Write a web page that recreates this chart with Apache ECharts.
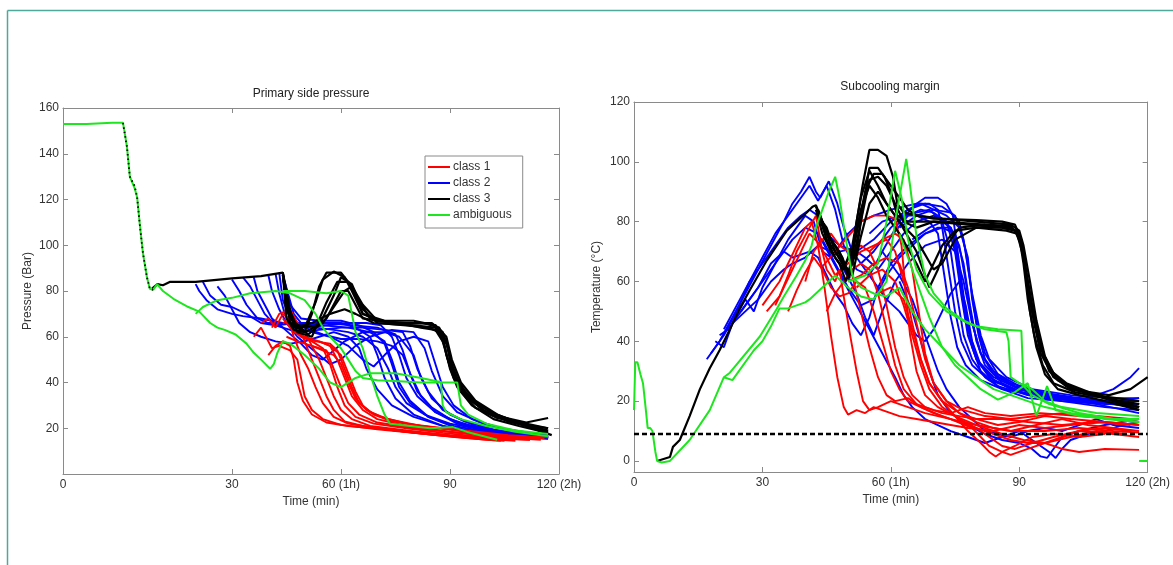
<!DOCTYPE html>
<html>
<head>
<meta charset="utf-8">
<script src="https://cdn.jsdelivr.net/npm/echarts@6/dist/echarts.min.js"></script>
<style>
html,body{margin:0;padding:0;background:#fff;}
#chart{width:1173px;height:565px;}
</style>
</head>
<body>
<div id="chart"></div>
<script>
// ---------- axis ticks ----------
const pressureTimeTicks = [-16.5, 30, 60, 90, 120];
const pressureTimeLabels = ['0', '30', '60 (1h)', '90', '120 (2h)'];
const marginTimeTicks = [0, 30, 60, 90, 120];
const marginTimeLabels = ['0', '30', '60 (1h)', '90', '120 (2h)'];
const pressureTicks = [0, 20, 40, 60, 80, 100, 120, 140, 160];
const marginTicks = [0, 20, 40, 60, 80, 100, 120];
const legendNames = ['class 1', 'class 2', 'class 3', 'ambiguous'];
const marginThreshold = 9;

// ---------- primary side pressure (Bar) vs time (min) ----------
const pressureDrop = [[0,153.5],[1.1,143],[1.9,130],[3.2,126],[3.9,121],[4.7,108],[5.5,96.6],[6.6,86],[7.4,81],[8.3,80.5]];

const pressureClass1 = [
  [[36,60],[38,64],[40,58],[41,55],[43,56],[46,54],[48,50],[49,42],[50,34],[52,28],[55,24],[60,21.5],[70,19.5],[80,18],[90,16.5],[100,15],[105,14.5]],
  [[38,66],[40,68],[42,64],[44,70],[45.5,68],[47,60],[49,52],[51,46],[53,38],[55,31],[58,25],[62,22],[70,20],[80,18],[92,16],[104,14.5]],
  [[41,64],[43,70],[46,72],[48,66],[50,58],[52,50],[54,42],[56,34],[58,28],[61,23],[66,21],[75,19],[86,17],[98,15.5],[108,14.5]],
  [[44,66],[47,68],[50,62],[52,56],[54,50],[56,42],[58,34],[60,28],[63,24],[68,21],[78,19],[90,17],[102,15.5],[112,15]],
  [[44,68],[46,64],[49,60],[52,58],[55,55],[57,48],[59,38],[61,30],[64,25],[69,22],[78,20],[88,18],[100,16],[112,15]],
  [[45,60],[48,58],[52,56],[56,54],[58,46],[60,38],[62,31],[65,26],[70,22.5],[80,20],[92,18],[104,16],[115,15]],
  [[47,62],[50,60],[54,58],[57,56],[59,50],[61,42],[63,34],[66,28],[70,24],[78,21],[90,18.5],[102,16.5],[115,15.5]],
  [[50,60],[53,58],[57,57],[59,54],[61,46],[63,38],[65,31],[68,27],[73,24],[82,21],[94,18.5],[106,16.5],[116,15.5]],
  [[52,56],[55,54],[58,52],[60,48],[62,40],[64,33],[67,28],[71,25],[78,22],[88,20],[100,17.5],[112,16]],
  [[40,52],[42,56],[44,58],[46,56],[47,50],[48,40],[49.5,32],[52,26],[56,22.5],[62,21],[72,19.5],[84,17.5],[96,16],[106,15]],
  [[54,58],[57,56],[60,52],[62,44],[64,36],[66,30],[69,26],[74,23],[82,21],[94,19],[106,17],[117,16]]
];

const pressureClass2 = [
  [[20,83],[21,80],[23,76],[26,72],[30,70],[33,69],[38,68],[44,66],[52,66],[60,66],[64,64],[68,60],[70,52],[72,42],[75,33],[80,26],[88,21],[98,18],[108,16.5],[117,15.5]],
  [[22,84],[24,78],[27,74],[30,73],[34,70],[38,66],[42,65],[48,66],[55,65],[62,64],[68,62],[72,58],[74,50],[76,40],[79,32],[84,25],[92,20],[102,17.5],[112,16],[117,15.5]],
  [[30,85],[32,80],[34,74],[37,68],[40,66],[46,66],[56,66],[63,65],[70,64],[75,61],[77,54],[79,44],[82,34],[86,27],[92,22],[100,19],[110,17],[117,16]],
  [[33,86],[35,82],[37,76],[39,70],[42,65],[48,62],[54,63],[60,64],[66,64],[72,63],[77,62],[79,56],[81,46],[84,36],[88,28],[94,23],[102,19.5],[112,17],[117,16.5]],
  [[36,86],[37,80],[39,74],[41,68],[44,64],[49,57],[52,52],[55,50],[58,54],[61,58],[66,62],[72,62],[76,60],[80,52],[82,42],[85,33],[90,26],[97,21],[106,18],[117,16]],
  [[40,87],[41,80],[43,72],[45,66],[48,60],[51,56],[54,52],[57,48],[60,50],[64,56],[68,60],[74,63],[80,62],[83,55],[85,45],[88,34],[92,27],[99,22],[108,18.5],[117,17]],
  [[42,87.5],[43,79],[44.5,70],[47,64],[52,62],[57,60],[62,56],[66,50],[69,47],[72,52],[76,58],[80,60],[84,58],[86,48],[88,38],[91,30],[96,24],[104,20],[114,17.5],[117,17]],
  [[43,88],[44,76],[46,68],[50,64],[55,61],[60,59],[65,59],[70,58],[74,56],[77,52],[79,44],[81,36],[85,29],[90,24],[98,20],[108,17.5],[117,16]],
  [[44,87],[46,74],[49,68],[54,67],[60,67],[65,65],[69,62],[72,57],[74,48],[76,38],[79,31],[84,25],[91,21],[100,18.5],[110,16.5],[117,16]],
  [[44,88],[45,72],[48,66],[53,64],[58,63],[62,62],[66,60],[70,55],[73,46],[75,38],[78,31],[83,26],[90,22],[100,19],[110,17],[117,16.5]],
  [[44,87],[47,70],[50,64],[56,65],[62,66],[67,66],[71,65],[74,60],[76,52],[78,42],[81,34],[86,27],[93,22],[102,19],[112,17],[117,16]],
  [[26,82],[28,78],[30,72],[32,66],[35,62],[38,60],[42,58],[46,57],[50,58],[54,60],[58,62],[62,60],[65,55],[67,46],[70,37],[74,30],[80,25],[88,21],[98,18],[110,16],[117,15.5]]
];

const pressureClass3 = [
  [[8,81],[9.5,83],[11,82.5],[13,84],[20,84],[30,85.5],[38,86.5],[44,88],[44.5,78],[45,68],[47,63],[50,62],[52,70],[54,82],[56,88],[60,88],[62,84],[64,78],[66,70],[70,67],[78,66],[85,66],[88,62],[89.5,55],[90.5,45],[93,36],[97,29],[103,24.5],[110,22],[117,19]],
  [[44,88],[45,72],[47,66],[50,64],[53,75],[55,85],[58,88.5],[61,86],[63,80],[66,70],[72,67],[80,67],[86,65],[88,60],[89,52],[91,42],[95,33],[100,27],[107,23],[113,21],[117,20]],
  [[44,87],[46,70],[48,62],[52,60],[56,75],[59,84],[62,84],[65,76],[68,68],[75,66],[83,66],[87,64],[89,58],[90.5,48],[93,38],[98,30],[104,25],[111,22.5],[117,24.5]],
  [[44,88],[45,75],[48,64],[54,65],[58,78],[60,86],[63,83],[66,72],[70,66],[78,65],[84,64],[87,62],[88.5,56],[90,46],[92,38],[96,30],[102,24],[109,21],[117,18]],
  [[44,87],[46,66],[50,62],[55,66],[61,80],[63,82],[66,74],[70,67],[76,66],[82,64],[86,63],[88,58],[90,47],[94,35],[99,28],[106,23],[117,18.5]],
  [[44,88],[47,64],[52,66],[57,70],[61,72],[64,70],[69,66],[80,65],[86,64],[89,57],[91,44],[95,34],[101,27],[108,23],[117,20]],
  [[44,87],[46,68],[51,61],[56,68],[60,80],[62,80],[66,68],[74,66],[82,66],[86,65],[89,60],[90.5,50],[93,40],[97,32],[103,26],[111,21],[118,17]]
];

const pressureAmbiguous = [
  [[-16.5,153],[-10,153],[-3,153.5],[0,153.5],[0.5,149],[1.1,143],[1.9,130],[3.2,125],[3.9,121],[4.7,108],[5.5,96.6],[6.6,86],[7.4,81],[8.3,80.5],[9.4,83],[11,80],[14,76.5],[18,73],[21,71],[24,66],[26,64],[28,63],[31,61],[34,57],[36,53],[38,50],[40.5,46],[41.5,48],[42.5,53],[44,58],[46,57],[50,52],[54,46],[57,40],[60,38],[64,42],[68,44],[75,44],[82,42],[88,40],[92,40],[93,30],[95,26],[100,22],[108,19],[117,17.5]],
  [[20,70],[22,73],[26,76],[30,77],[35,79],[42,80],[46,79],[50,76],[53,70],[55,64],[57,60],[60,55],[62,50],[64,45],[66,42],[70,41],[76,40.5],[82,40],[86,40],[87.5,40],[88,30],[89,27],[93,24],[100,21],[108,18.5],[117,16.5]],
  [[44,80],[50,80],[56,79],[60,80],[62,78],[63,70],[64,62],[66,55],[68,44],[70,34],[72,26],[73.5,22],[84.5,20],[90.8,20.5],[94.7,18.4],[103,15]]
];

// ---------- subcooling margin (°C) vs time (min) ----------
const marginClass1 = [
  [[30,52],[32,56],[34,60],[36,66],[38,72],[40,78],[41.5,80],[43,72],[44.5,58],[46,42],[47.5,28],[49,18],[50,15.5],[52,17],[54,16],[56,18],[58,17],[62,15],[66,14],[70,13],[74,12],[78,11],[84,10],[90,12],[96,11],[102,12],[110,13],[118,12]],
  [[31,50],[34,55],[36,62],[38,70],[39.5,74],[41,78],[42.5,82],[44,70],[45,64],[47,60],[48,64],[49,55],[50.5,42],[52,30],[53.5,20],[55,17],[57,18],[60,20],[64,18],[68,16],[74,14],[80,12],[88,10],[96,10],[104,11],[112,10],[118,9.5]],
  [[33,52],[35,58],[37,64],[39,70],[41,76],[43,73],[45,68],[47,62],[49,65],[51,62],[53,50],[55,38],[57,28],[59,22],[61,20],[64,21],[67,18],[72,15],[78,12],[84,9],[88,7],[92,6],[96,6],[100,4],[104,3],[110,4],[118,3.7]],
  [[36,50],[38,57],[40,63],[42,68],[44,64],[46,58],[48,55],[50,56],[52,60],[54,58],[56,50],[58,40],[60,30],[62,24],[64,20],[67,18],[70,16],[74,14],[79,11],[83,5],[86,3],[88,2],[92,4],[96,6],[100,8],[104,10],[110,11],[116,10]],
  [[40,60],[42,70],[44,74],[46,76],[48,72],[50,70],[53,72],[55,70],[57,64],[59,52],[61,38],[63,28],[65,22],[68,18],[72,16],[76,15],[80,14],[86,14],[92,13],[100,12],[108,13],[116,12]],
  [[44,65],[47,70],[50,75],[53,80],[56,82],[59,82],[61,81],[62.5,72],[63.5,56],[64.5,42],[66,30],[68,22],[71,18],[75,15],[80,12],[86,9],[91,7],[96,6],[102,8],[108,10],[115,9]],
  [[47,62],[50,66],[53,70],[56,72],[59,74],[61,70],[63,60],[65,46],[67,34],[69,26],[72,20],[76,16],[80,13],[84,11],[88,10],[94,12],[100,14],[106,12],[112,11],[118,10]],
  [[50,60],[53,62],[56,66],[59,68],[62,66],[64,58],[66,46],[68,34],[70,26],[73,20],[76,16],[80,14],[85,12],[90,13],[96,15],[102,14],[110,13],[118,12]],
  [[52,58],[55,62],[58,64],[61,60],[63,52],[65,42],[67,32],[69,24],[72,18],[76,14],[80,11],[83,8],[86,5],[89,4],[93,6],[98,8],[104,10],[112,9],[118,8]],
  [[45,50],[47,56],[49,60],[51,64],[53,66],[55,64],[57,56],[59,44],[61,32],[63,24],[66,19],[70,17],[74,16],[78,18],[82,16],[88,15],[95,16],[104,15],[112,14],[118,13]],
  [[55,70],[58,74],[61,76],[63,74],[65,64],[66.5,50],[68,36],[70,26],[73,20],[77,17],[82,15],[88,14],[94,15],[100,16],[108,15],[116,14]],
  [[57,56],[60,58],[63,54],[65,44],[67,34],[69,26],[72,20],[75,15],[78,10],[81,6],[83,3],[84.5,1.5],[86,3],[89,5],[93,8],[98,9],[104,8],[110,9]]
];

const marginClass2 = [
  [[17,34],[20,40],[23,48],[26,56],[29,64],[32,72],[35,80],[37,86],[39,90],[41,95],[42.5,90],[43.5,88],[45.5,93.5],[47.5,86],[49,78],[51,70],[53,66],[56,70],[60,78],[63,82],[66,83],[69,84],[72,80],[74,70],[75.5,55],[77,42],[79,34],[82,28],[86,24],[92,21],[100,20],[110,19],[118,19]],
  [[18,36],[21,42],[24,50],[27,60],[30,68],[33,76],[36,82],[39,88],[41,92],[43,87],[45,92],[47,84],[49,72],[52,64],[55,62],[58,70],[62,80],[66,86],[68,88],[71,88],[73,86],[74.5,82],[76,66],[77.5,50],[79,38],[81,30],[85,25],[92,22],[102,21],[112,20],[118,21]],
  [[19,40],[21,38],[23,46],[26,54],[28,50],[30,58],[33,66],[36,74],[38,78],[40,82],[42,80],[44,70],[46,68],[48,70],[51,71],[54,68],[57,64],[60,70],[63,76],[66,80],[70,82],[73,80],[75,74],[76.5,58],[78,44],[80,34],[83,28],[88,24],[95,21],[105,20],[118,18]],
  [[20,42],[22,44],[24,48],[26,52],[29,58],[32,66],[35,70],[37,68],[39,69],[41,70],[43,68],[45,62],[47,56],[49,52],[51,46],[53,42],[55,48],[57,58],[60,66],[64,72],[68,76],[72,78],[75,76],[77,66],[78.5,52],[80,40],[82,32],[86,26],[92,22],[100,20],[110,18],[118,17]],
  [[21,44],[24,52],[27,60],[30,66],[33,72],[36,78],[39,82],[41,84],[43,82],[45,76],[48,72],[52,70],[56,74],[60,80],[64,84],[67,86],[70,84],[73,82],[76,78],[78,68],[79,54],[80.5,42],[82,34],[85,28],[90,24],[98,21],[108,20],[118,20]],
  [[23,46],[26,50],[29,54],[32,60],[35,64],[37,66],[40,68],[43,72],[46,70],[49,64],[52,56],[54,48],[56,42],[58,50],[61,60],[64,66],[68,72],[72,74],[75,70],[77,60],[79,46],[81,36],[84,29],[89,25],[96,22],[106,20],[118,18]],
  [[25,50],[28,56],[31,62],[34,68],[37,74],[40,78],[43,76],[46,68],[49,60],[52,52],[55,44],[58,36],[61,28],[63,22],[65,18],[68,14],[71,12],[74,10],[78,8],[82,6],[86,8],[90,10],[94,6],[97,3],[98.5,1],[100,4],[102,7],[106,9],[110,10],[114,12],[118,13]],
  [[60,75],[64,82],[67,84],[70,83],[73,80],[75,70],[76.5,55],[78,42],[80,34],[84,28],[90,24],[96,22],[102,21],[108,22],[112,24],[116,28],[118,31]],
  [[55,76],[58,80],[62,82],[66,82],[69,80],[71,76],[72.5,62],[74,48],[75.5,38],[77.5,32],[81,27],[86,24],[94,22],[104,20],[114,19],[118,18]],
  [[53,66],[56,60],[59,54],[62,50],[64,46],[66,42],[68,40],[70,44],[72,50],[74,56],[76,60],[77.5,52],[79,40],[81,32],[84,27],[90,23],[98,21],[108,19],[118,16]],
  [[58,70],[62,62],[65,54],[67,46],[69,38],[71,30],[73,24],[76,18],[79,14],[82,10],[85,9],[88,8],[92,10],[96,11],[100,10],[104,12],[108,14],[112,12],[118,11]],
  [[47,70],[50,76],[53,80],[56,82],[60,84],[63,85],[66,86],[69,86],[71,84],[72,78],[73.5,64],[75,50],[76.5,40],[79,32],[83,27],[89,24],[97,22],[107,20],[118,19]],
  [[44,74],[47,66],[50,58],[53,52],[56,54],[59,62],[62,68],[65,72],[68,76],[71,78],[74,78],[76,72],[77.5,60],[79,46],[81,36],[84,30],[88,26],[95,23],[104,21],[118,19]],
  [[62,60],[65,50],[67,40],[69,30],[71,22],[74,16],[78,12],[82,9],[86,7],[90,6],[93,4],[95,1.5],[96.5,1],[98,4],[100,8],[104,10],[110,12],[118,14]],
  [[60,80],[64,84],[68,86],[72,85],[75,82],[77,74],[78.5,60],[80,46],[82,36],[85,29],[90,25],[98,22],[108,20],[118,19]],
  [[62,78],[66,82],[70,84],[74,83],[76,80],[77.5,70],[79,56],[81,42],[83,34],[87,28],[93,24],[102,22],[112,21],[118,21]],
  [[65,74],[69,78],[72,80],[74,78],[75.5,68],[77,54],[78.5,42],[80.5,33],[84,27],[90,23],[100,21],[110,20],[118,20]]
];

const marginClass3 = [
  [[5.4,0],[8.4,1.3],[9.1,4.7],[10.7,7],[13,15],[15.4,24],[17.7,31],[20,37],[22.4,44],[24.7,51],[27,57],[31,67],[35.7,77],[40.3,83],[41.7,85],[42.5,85.5],[43.5,82],[44.5,78],[46.5,73],[48.7,68],[50.3,61],[52,80],[53.4,92],[55,104],[57,104],[59,102],[60.5,95],[61.5,86],[63,83],[70,81],[80,80.5],[86,80],[89,79],[90.5,74],[91.5,62],[92.5,50],[94,38],[96,29],[99,24],[104,22],[110,20],[118,17]],
  [[42.5,85],[44,80],[46,74],[48,70],[50,63],[52,70],[53.5,85],[55,98],[57,98],[58.5,95],[60,90],[61.5,82],[64,80],[72,80],[82,79],[88,78.5],[90,75],[91,66],[92,54],[93.5,42],[95.5,32],[98,26],[103,23],[110,21],[118,19]],
  [[42.5,84],[44,76],[46,70],[48,66],[49.5,60],[51,66],[53,80],[55,94],[57,95],[59,92],[61,86],[63,80],[66,78],[70,80],[78,79],[86,78],[89.5,77],[91,70],[92,58],[93.5,46],[95,36],[98,28],[102,24],[110,21.5],[118,20]],
  [[43,83],[45,74],[47,68],[49,64],[51,72],[53,88],[55,97],[57,92],[59,86],[62,80],[66,70],[68,62],[69,58],[71,64],[73,72],[76,78],[82,79],[88,78],[90,76],[91.5,64],[93,50],[95,38],[97,30],[101,25],[108,22],[118,18]],
  [[43,82],[45,78],[47,70],[49,65],[51,70],[53,84],[55,92],[57,88],[59,82],[62,76],[66,66],[68,60],[70,66],[72,72],[75,77],[80,78],[87,77],[89.5,76],[91,68],[92.5,56],[94,44],[96,34],[99,27],[104,23.5],[111,22],[116,24],[120,28]],
  [[44,80],[46,72],[48,68],[50,62],[52,76],[54,90],[56,96],[58,96],[60,92],[62,88],[64,84],[66,82],[72,81],[80,80],[88,79],[90,77],[91,72],[92.5,60],[94,47],[96,35],[98.5,28],[103,24],[110,21],[118,18]],
  [[43,84],[45,76],[47,72],[49,66],[51,62],[53,75],[55,86],[57,90],[59,86],[62,80],[66,74],[70,64],[72,66],[75,74],[80,78],[86,78],[89,77],[90.5,72],[92,60],[93.5,48],[95,38],[97.5,30],[101,26],[108,22],[118,17]]
];

const marginAmbiguous = [
  [[0,17],[0.3,33],[0.8,33],[1.5,29],[2.1,26],[2.7,18],[3.2,11],[3.8,11],[4.3,10],[5,3],[5.4,0],[6.5,-0.5],[8.4,0],[13,7],[17.7,17],[21,28],[23,27],[24.5,30],[28,37],[30,40],[32,45],[34,51],[36,51],[38,52],[40,53],[41,54],[44,58],[47,62],[50,58],[53,55],[56,54],[59,60],[61,80],[63.6,101],[64.5,92],[66,75],[68,62],[70,56],[73,51],[77,47],[80,45],[85,44],[90.5,43.5],[91,25],[93,22],[97,19],[104,16],[112,14],[118,13]],
  [[21,28],[22.4,29.5],[29.4,41.6],[33.3,50.7],[35,55],[38,62],[40,67],[41.5,72],[42.6,78.5],[44,84],[45.5,90],[47,95],[48,88],[49.5,74],[51,62],[53,58],[56,56],[59,55],[62,58],[65,50],[68,44],[72,38],[76,32],[80,28],[84,24],[88,22],[92,20],[96,18],[102,16],[110,14],[118,13]],
  [[50,60],[54,62],[57,66],[59,80],[61,97],[62.5,88],[64,74],[66,64],[69,56],[73,50],[78,46],[82,44],[87,43],[87.5,40],[88,28],[90,26],[93,24],[96,20],[100,18],[108,16],[118,15]],
  [[62,76],[64,68],[66,60],[69,48],[72,38],[75,32],[78,28],[81,24],[85,20.5],[89,23],[92,26],[94,15],[96.5,25],[98.5,17],[104,15],[112,14],[118,14]],
  [[118,0],[120,0]]
];

// ---------- styling ----------
const FONT = '"Liberation Sans", Arial, sans-serif';
const AXIS_GRAY = '#8a8a8a';
const TEXT = '#333';
const COLORS = { 'class 1': '#ff0000', 'class 2': '#0000ff', 'class 3': '#000000', 'ambiguous': '#1ee61e' };
const WIDTHS = { 'class 1': 1.9, 'class 2': 1.9, 'class 3': 2.2, 'ambiguous': 2 };

function lines(curves, name, axisIndex, extra) {
  return curves.map(function (c) {
    return Object.assign({
      type: 'line', name: name, data: c,
      xAxisIndex: axisIndex, yAxisIndex: axisIndex,
      symbol: 'none', showSymbol: false, silent: true, animation: false,
      itemStyle: { color: COLORS[name] },
      lineStyle: { color: COLORS[name], width: WIDTHS[name] }
    }, extra || {});
  });
}

function boxAxis(gridIndex, position, base) {
  const axisLine = { show: true, onZero: false, lineStyle: { color: AXIS_GRAY, width: 1 } };
  return Object.assign({
    gridIndex: gridIndex, type: 'value', position: position,
    axisLine: axisLine,
    splitLine: { show: false }
  }, base);
}

function tickOpts(values) {
  return { show: true, inside: true, length: 5, customValues: values, lineStyle: { color: AXIS_GRAY } };
}

const labelStyle = { color: TEXT, fontSize: 12, fontFamily: FONT };
const nameStyle = { color: TEXT, fontSize: 12, fontFamily: FONT };

function labelFrom(ticks, labels) {
  return function (v) {
    for (let i = 0; i < ticks.length; i++) if (Math.abs(ticks[i] - v) < 1e-6) return labels[i];
    return '';
  };
}

const series = []
  .concat(lines(pressureClass2, 'class 2', 0))
  .concat(lines(pressureClass1, 'class 1', 0))
  .concat(lines(pressureClass3, 'class 3', 0))
  .concat(lines(pressureAmbiguous, 'ambiguous', 0))
  .concat(lines([pressureDrop], 'class 3', 0, { lineStyle: { color: '#000', width: 1.8, type: [1.5, 3] } }))
  .concat(lines(marginClass2, 'class 2', 2))
  .concat(lines(marginClass1, 'class 1', 2))
  .concat(lines(marginClass3, 'class 3', 2))
  .concat(lines(marginAmbiguous, 'ambiguous', 2));

series.push({
  type: 'line', name: 'threshold', xAxisIndex: 2, yAxisIndex: 2,
  data: [[0, marginThreshold], [120, marginThreshold]],
  symbol: 'none', silent: true, animation: false, z: 5,
  lineStyle: { color: '#000', width: 2.4, type: [5, 3] }
});

const option = {
  backgroundColor: '#fff',
  animation: false,
  grid: [
    { left: 63, top: 108, width: 496, height: 366, containLabel: false },
    { left: 634, top: 102, width: 515, height: 370, containLabel: false }
  ],
  xAxis: [
    boxAxis(0, 'bottom', {
      min: -16.5, max: 120,
      axisTick: tickOpts(pressureTimeTicks),
      axisLabel: Object.assign({ customValues: pressureTimeTicks, margin: 5, formatter: labelFrom(pressureTimeTicks, pressureTimeLabels), showMinLabel: true, showMaxLabel: true }, labelStyle),
      name: 'Time (min)', nameLocation: 'middle', nameGap: 17, nameTextStyle: nameStyle
    }),
    boxAxis(0, 'top', { min: -16.5, max: 120, axisTick: tickOpts(pressureTimeTicks), axisLabel: { show: false } }),
    boxAxis(1, 'bottom', {
      min: 0, max: 120,
      axisTick: tickOpts(marginTimeTicks),
      axisLabel: Object.assign({ customValues: marginTimeTicks, margin: 5, formatter: labelFrom(marginTimeTicks, marginTimeLabels), showMinLabel: true, showMaxLabel: true }, labelStyle),
      name: 'Time (min)', nameLocation: 'middle', nameGap: 19, nameTextStyle: nameStyle
    }),
    boxAxis(1, 'top', { min: 0, max: 120, axisTick: tickOpts(marginTimeTicks), axisLabel: { show: false } })
  ],
  yAxis: [
    boxAxis(0, 'left', {
      min: 0, max: 160,
      axisTick: tickOpts(pressureTicks),
      axisLabel: Object.assign({ customValues: pressureTicks, margin: 4, formatter: function (v) { return v === 0 ? '' : String(v); } }, labelStyle),
      name: 'Pressure (Bar)', nameLocation: 'middle', nameRotate: 90, nameGap: 29, nameTextStyle: nameStyle
    }),
    boxAxis(0, 'right', { min: 0, max: 160, axisTick: tickOpts(pressureTicks), axisLabel: { show: false } }),
    boxAxis(1, 'left', {
      min: -3.7, max: 120,
      axisTick: tickOpts(marginTicks),
      axisLabel: Object.assign({ customValues: marginTicks, margin: 4, formatter: function (v) { return String(v); } }, labelStyle),
      name: 'Temperature (°C)', nameLocation: 'middle', nameRotate: 90, nameGap: 31, nameTextStyle: nameStyle
    }),
    boxAxis(1, 'right', { min: -3.7, max: 120, axisTick: tickOpts(marginTicks), axisLabel: { show: false } })
  ],
  legend: {
    data: legendNames,
    orient: 'vertical',
    left: 425, top: 156,
    padding: [4, 11, 6, 3],
    itemGap: 2,
    itemWidth: 22, itemHeight: 2,
    icon: 'rect',
    backgroundColor: '#fff',
    borderColor: '#8a8a8a', borderWidth: 1, borderRadius: 0,
    selectedMode: false,
    textStyle: { color: TEXT, fontSize: 12, fontFamily: FONT, lineHeight: 14, padding: [0, 0, 0, -2] }
  },
  graphic: [
    { type: 'line', shape: { x1: 7.5, y1: 10.5, x2: 1173, y2: 10.5 }, style: { stroke: '#4fa99a', lineWidth: 1.5 }, silent: true },
    { type: 'line', shape: { x1: 7.5, y1: 10.5, x2: 7.5, y2: 565 }, style: { stroke: '#4fa99a', lineWidth: 1.5 }, silent: true },
    { type: 'text', x: 311, y: 94, silent: true, style: { text: 'Primary side pressure', fill: '#222', font: '12px ' + FONT, textAlign: 'center', textVerticalAlign: 'middle' } },
    { type: 'text', x: 890, y: 87, silent: true, style: { text: 'Subcooling margin', fill: '#222', font: '12px ' + FONT, textAlign: 'center', textVerticalAlign: 'middle' } }
  ],
  series: series
};

const chart = echarts.init(document.getElementById('chart'), null, { renderer: 'canvas' });
chart.setOption(option);
</script>
</body>
</html>
